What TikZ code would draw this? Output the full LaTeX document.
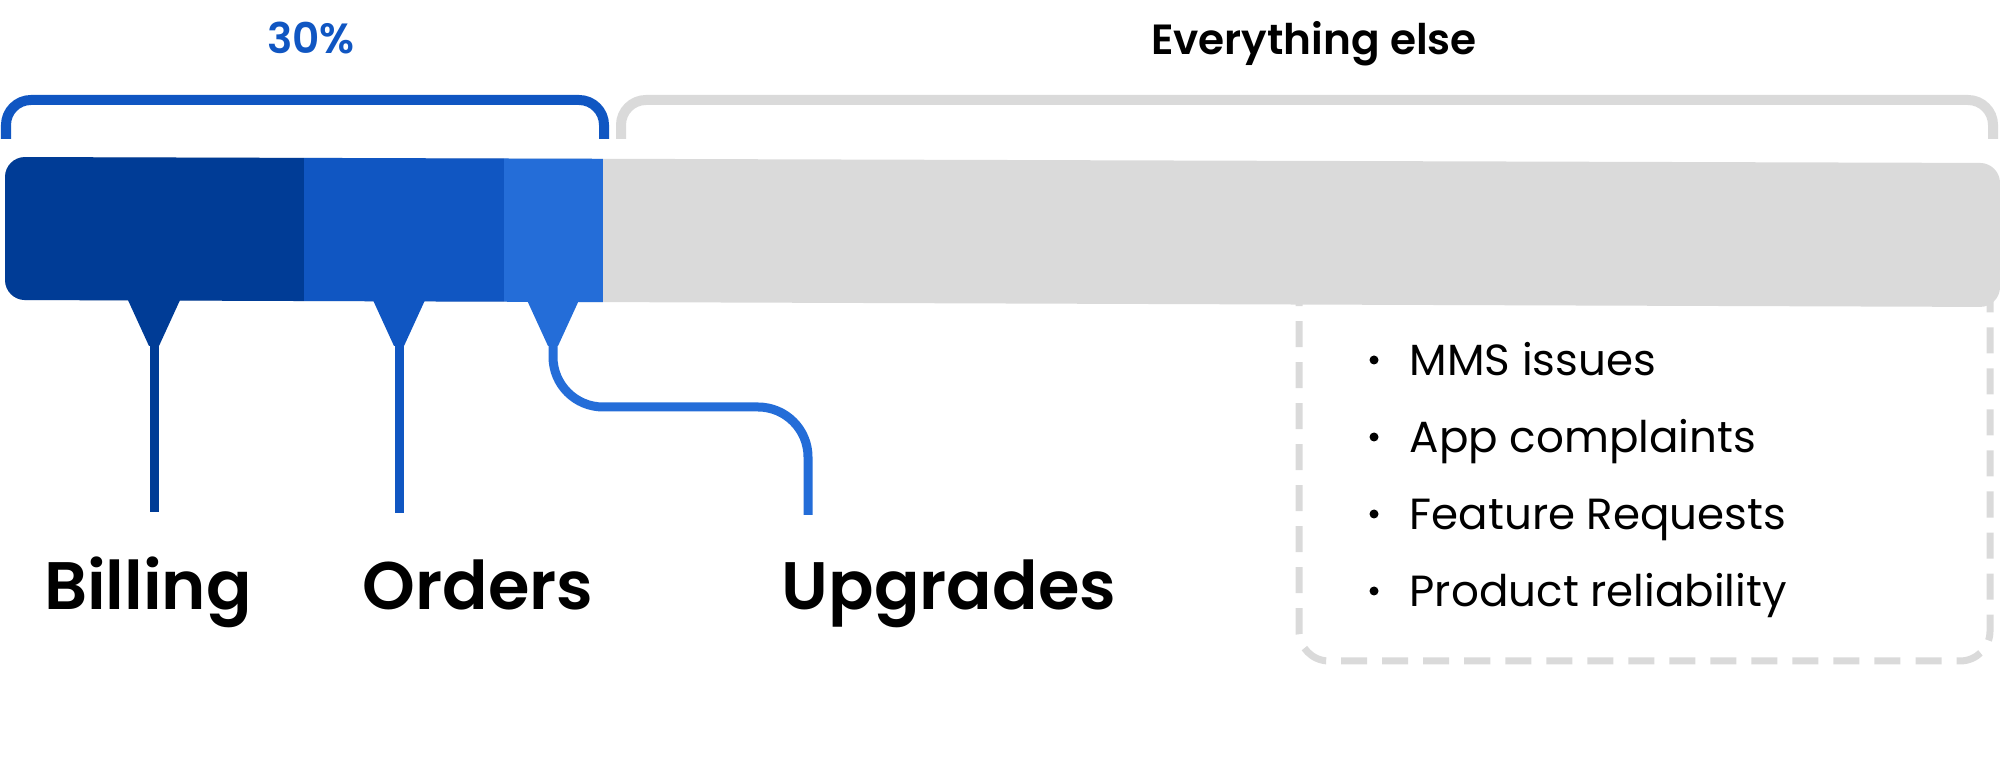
\documentclass[tikz,border=0pt]{standalone}
\usepackage{fontspec}
\setmainfont{Poppins}[BoldFont={Poppins SemiBold}]
\usetikzlibrary{positioning}
\definecolor{billblue}{HTML}{003C96}
\definecolor{orderblue}{HTML}{1056C2}
\definecolor{upblue}{HTML}{246DD8}
\definecolor{restgray}{HTML}{DADADA}
\tikzset{
  bracket/.style={line width=0.1cm, rounded corners=0.25cm},
  wire/.style={line width=0.09cm},
  cat/.style={font=\fontsize{19.1}{24}\selectfont\bfseries, anchor=base},
  head/.style={font=\fontsize{12}{15}\selectfont\bfseries, anchor=base},
  item/.style={font=\fontsize{12.4}{16}\selectfont, anchor=base west, inner sep=0pt},
}
\begin{document}
\begin{tikzpicture}[x=0.01cm, y=-0.01cm]
\useasboundingbox (0,0) rectangle (2001,765);
% headings
\node[head, text=orderblue] (pct) at (311,54) {30\%};
\node[head] (rest) at (1314,55) {Everything else};
% brackets
\draw[bracket, orderblue] (6,139) -- (6,100) -- (604,100) -- (604,139);
\draw[bracket, restgray] (621,139) -- (621,100) -- (1993,100) -- (1993,139);
% dashed box, top hidden under the bar
\draw[restgray, line width=0.07cm, dash pattern=on 0.26cm off 0.15cm, rounded corners=0.3cm] (1299,250) rectangle (1990,661);
% bar
\begin{scope}
\clip[rounded corners=0.2cm] (5,157) -- (2000,163) -- (2000,307) -- (5,300) -- cycle;
\fill[restgray] (0,150) rectangle (2001,320);
\fill[billblue] (0,150) rectangle (304,320);
\fill[orderblue] (304,150) rectangle (504,320);
\fill[upblue] (504,150) rectangle (603,320);
\end{scope}
% funnels
\foreach \x/\c/\n in {154/billblue/b, 399/orderblue/o, 553/upblue/u}{
  \fill[\c] (\x-27,298) -- (\x+27,298) -- (\x+5,346) -- (\x-5,346) -- cycle;
  \coordinate (tip\n) at (\x,345);
}
% labels
\node[cat] (billing) at (148,610) {Billing};
\node[cat] (orders) at (478,610) {Orders};
\node[cat] (upgrades) at (949,610) {Upgrades};
\coordinate (endb) at (154,512);
\coordinate (endo) at (399,513);
\coordinate (endu) at (808,515);
\draw[wire, billblue] (tipb) -- (endb);
\draw[wire, orderblue] (tipo) -- (endo);
\draw[wire, upblue, rounded corners=0.5cm] (tipu) -- (553,407) -- (808,407) -- (endu);
% list
\foreach \t [count=\i] in {MMS issues, App complaints, Feature Requests, Product reliability}{
  \node[item] (item\i) at (1409,{376+77*(\i-1)}) {\t};
  \fill (1374,{360+77*(\i-1)}) circle (0.045cm);
}
\end{tikzpicture}
\end{document}
